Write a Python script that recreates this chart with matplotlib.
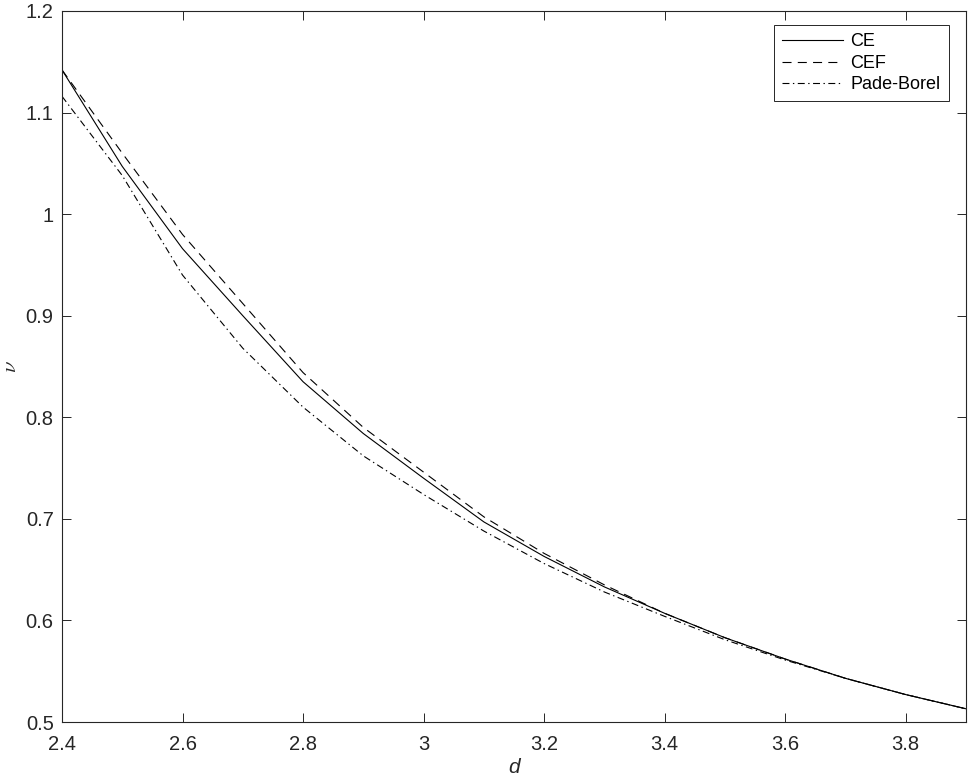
import matplotlib
matplotlib.use("Agg")
import matplotlib.pyplot as plt
from matplotlib.ticker import FuncFormatter

d = [2.4, 2.5, 2.6, 2.7, 2.8, 2.9, 3.0, 3.1, 3.2, 3.3, 3.4, 3.5, 3.6, 3.7, 3.8, 3.9]
ce = [1.142, 1.047, 0.966, 0.900, 0.835, 0.784, 0.740, 0.697, 0.663, 0.633,
      0.607, 0.583, 0.562, 0.543, 0.527, 0.513]
cef = [1.142, 1.060, 0.980, 0.912, 0.844, 0.790, 0.746, 0.702, 0.666, 0.635,
       0.607, 0.583, 0.562, 0.543, 0.527, 0.513]
pb = [1.116, 1.038, 0.940, 0.868, 0.810, 0.762, 0.724, 0.688, 0.656, 0.628,
      0.604, 0.581, 0.561, 0.543, 0.527, 0.513]
labels = ["CE", "CEF", "Pade-Borel"]
xticks = [2.4, 2.6, 2.8, 3.0, 3.2, 3.4, 3.6, 3.8]
yticks = [0.5, 0.6, 0.7, 0.8, 0.9, 1.0, 1.1, 1.2]

plt.rcParams['font.family'] = ['Liberation Sans', 'DejaVu Sans']
plt.rcParams['lines.scale_dashes'] = False
plt.rcParams['mathtext.fontset'] = 'cm'

axc = '#262626'
fig = plt.figure(figsize=(9.68, 7.83), dpi=100)
ax = fig.add_axes([62/968, 61/783, 904/968, 711/783])

ax.plot(d, ce, color='black', lw=0.8, linestyle='-', label=labels[0])
ax.plot(d, cef, color='black', lw=0.8, linestyle=(0, (6.5, 4.5)), label=labels[1])
ax.plot(d, pb, color='black', lw=0.8, linestyle=(0, (5, 2.5, 1, 2.5)), label=labels[2])

ax.set_xlim(2.4, 3.9)
ax.set_ylim(0.5, 1.2)
ax.set_xticks(xticks)
ax.set_yticks(yticks)
fmt = FuncFormatter(lambda v, p: ('%g' % round(v, 3)))
ax.xaxis.set_major_formatter(fmt)
ax.yaxis.set_major_formatter(fmt)

ax.tick_params(direction='in', length=6.5, width=0.7, colors=axc, labelsize=14.5,
               top=True, right=True)
ax.tick_params(axis='x', pad=9)
ax.tick_params(axis='y', pad=6)
for s in ax.spines.values():
    s.set_color(axc)
    s.set_linewidth(0.8)

ax.set_xlabel('d', fontsize=15, color=axc, labelpad=3, style='italic')
ax.set_ylabel(r'$\nu$', fontsize=15, color=axc, labelpad=4)

leg = ax.legend(loc='upper right', bbox_to_anchor=(0.981, 0.980), borderaxespad=0,
                fontsize=13, handlelength=3.4, handletextpad=0.4, labelspacing=0.25,
                borderpad=0.45, fancybox=False, framealpha=1, edgecolor=axc)
leg.get_frame().set_linewidth(0.7)

fig.savefig('out.png', dpi=100)
